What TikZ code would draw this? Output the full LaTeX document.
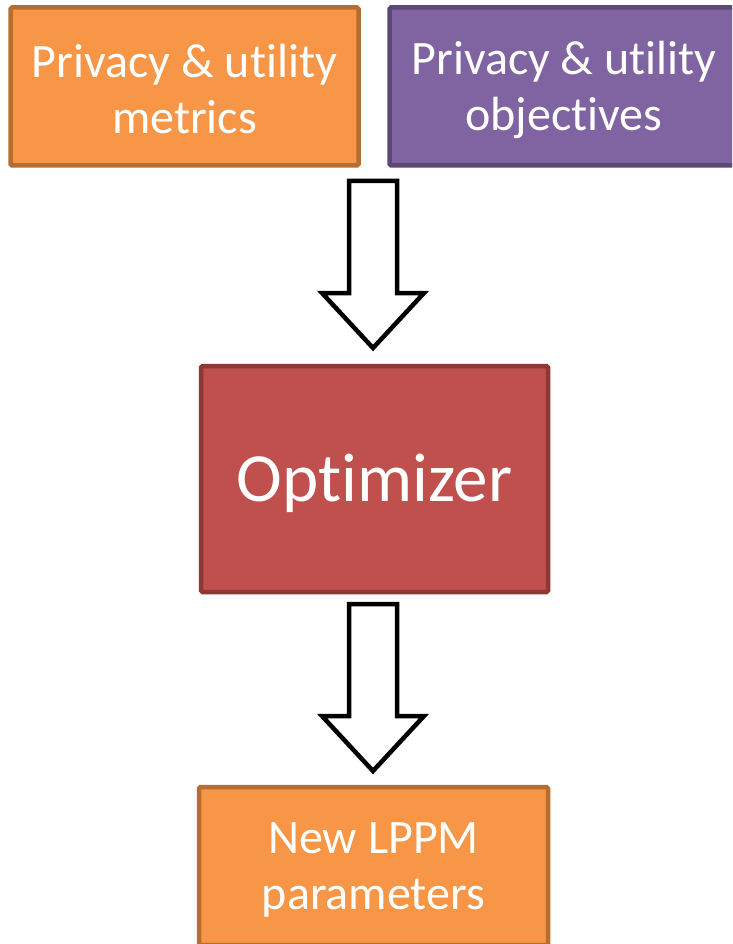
\documentclass[tikz,border=0pt]{standalone}
\usepackage{fontspec}
\setmainfont{Carlito}[RawFeature={-liga;-clig;-calt;-dlig}]
\usetikzlibrary{calc}
\definecolor{orfill}{HTML}{F79646}
\definecolor{ordraw}{HTML}{B66D31}
\definecolor{pufill}{HTML}{8064A2}
\definecolor{pudraw}{HTML}{5C4776}
\definecolor{refill}{HTML}{C0504D}
\definecolor{redraw}{HTML}{8C3836}
\newcommand{\nl}{\kern0pt }
\begin{document}
\begin{tikzpicture}[x=1pt,y=-1pt,
  box/.style={line width=4.5pt, rounded corners=1.5pt, inner sep=0pt, outer sep=0pt},
  orangebox/.style={box, draw=ordraw, fill=orfill},
  purplebox/.style={box, draw=pudraw, fill=pufill},
  redbox/.style={box, draw=redraw, fill=refill},
  lbl/.style={text=white, align=center, inner sep=0pt, font=\fontsize{48}{56}\selectfont},
  blockarrow/.pic={\draw[line width=4.5pt, fill=white, line join=miter]
     (-24,0) -- (24,0) -- (24,112) -- (51,112) -- (0,167) -- (-51,112) -- (-24,112) -- cycle;}
]
\useasboundingbox (0,0) rectangle (732,944);
\clip (0,0) rectangle (732,944);
\fill[white] (0,0) rectangle (732,944);
\node[orangebox, minimum width=348pt, minimum height=158pt] (metrics) at (184.5,86.5) {};
\node[lbl] (metricsT) at ($(metrics.center)+(0,3)$) {Privacy \& ut\nl ility\\metrics};
\node[purplebox, minimum width=349pt, minimum height=158pt] (objectives) at (564,86.5) {};
\node[lbl] (objectivesT) at ($(objectives.center)+(0,3)$) {Privacy \& ut\nl ility\\object\nl ives};
\node[redbox, minimum width=347pt, minimum height=226pt] (opt) at (374.5,479) {};
\node[lbl, font=\fontsize{69}{80}\selectfont] (optT) at ($(opt.center)+(0,4)$) {Opt\nl imizer};
\node[orangebox, minimum width=349pt, minimum height=158pt] (lppm) at (373.5,866) {};
\node[lbl] (lppmT) at ($(lppm.center)+(0,4)$) {New LPPM\\parameters};
\coordinate (a1) at (373,181);
\coordinate (a2) at (373,604);
\pic at (a1) {blockarrow};
\pic at (a2) {blockarrow};
\end{tikzpicture}
\end{document}
